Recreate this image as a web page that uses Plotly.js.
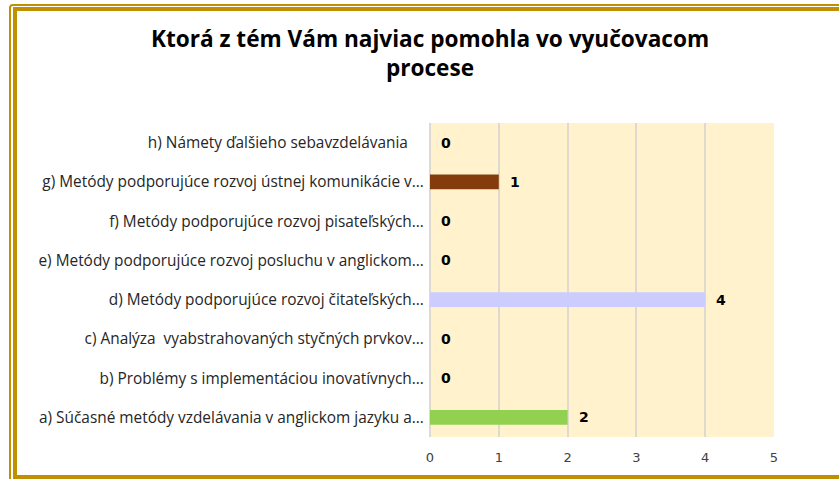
<!DOCTYPE html>
<html>
<head>
<meta charset="utf-8">
<script src="https://cdn.plot.ly/plotly-3.0.1.min.js"></script>
<style>
html,body{margin:0;padding:0;background:#fff;overflow:hidden;}
#wrap{position:relative;width:839px;height:479px;overflow:hidden;}
#chart{position:absolute;left:0;top:0;width:839px;height:479px;}
#frame1{position:absolute;left:9px;top:4px;width:900px;height:520px;border:2px solid #C09000;border-radius:4px;pointer-events:none;box-sizing:border-box;}
#frame2{position:absolute;left:13px;top:7px;width:900px;height:472px;border:4px solid #C09000;border-right:none;pointer-events:none;box-sizing:border-box;}
</style>
</head>
<body>
<div id="wrap">
<div id="chart"></div>
<div id="frame1"></div>
<div id="frame2"></div>
</div>
<script>
const categories = [
  "a) Súčasné metódy vzdelávania v anglickom jazyku a...",
  "b) Problémy s implementáciou inovatívnych...",
  "c) Analýza  vyabstrahovaných styčných prvkov...",
  "d) Metódy podporujúce rozvoj čitateľských...",
  "e) Metódy podporujúce rozvoj posluchu v anglickom...",
  "f) Metódy podporujúce rozvoj pisateľských...",
  "g) Metódy podporujúce rozvoj ústnej komunikácie v...",
  "h) Námety ďalšieho sebavzdelávania\u00a0\u00a0\u00a0\u00a0"
];
const values = [2, 0, 0, 4, 0, 0, 1, 0];
const barColors = ["#92D050", "#4F81BD", "#4F81BD", "#CCCCFF", "#4F81BD", "#4F81BD", "#843C0C", "#4F81BD"];
const xTicks = [0, 1, 2, 3, 4, 5];
const titleText = "Ktorá z tém Vám najviac pomohla vo vyučovacom<br>procese";

const trace = {
  type: "bar",
  orientation: "h",
  x: values,
  y: categories,
  marker: {color: barColors},
  hoverinfo: "none"
};

const annotations = values.map((v, i) => ({
  x: v, y: categories[i], xref: "x", yref: "y",
  text: String(v), showarrow: false, xanchor: "left", xshift: 9,
  font: {family: "DejaVu Sans", size: 14, color: "#000", weight: "bold"}
}));

const layout = {
  width: 839, height: 479,
  margin: {l: 430, r: 65, t: 123, b: 42, pad: 0},
  paper_bgcolor: "rgba(0,0,0,0)",
  plot_bgcolor: "#FFF2CC",
  showlegend: false,
  bargap: 0.62,
  title: {
    text: titleText,
    x: 0.5125, xanchor: "center", xref: "container",
    y: 0.902, yanchor: "top", yref: "container",
    font: {family: "Open Sans", size: 22.6, color: "#000", weight: "bold"}
  },
  xaxis: {
    range: [0, 5],
    tickvals: xTicks,
    showgrid: true, gridcolor: "#DEDAD0", gridwidth: 2,
    zeroline: true, zerolinecolor: "#DEDAD0", zerolinewidth: 2,
    ticks: "outside", ticklen: 8, tickcolor: "rgba(0,0,0,0)",
    tickfont: {family: "DejaVu Sans", size: 13, color: "#404040"},
    fixedrange: true
  },
  yaxis: {
    categoryorder: "array", categoryarray: categories,
    tickfont: {family: "Open Sans", size: 15.4, color: "#262626"},
    ticks: "outside", ticklen: 2, tickcolor: "rgba(0,0,0,0)",
    showgrid: false, zeroline: false,
    fixedrange: true
  },
  annotations: annotations
};

Plotly.newPlot("chart", [trace], layout, {displayModeBar: false, staticPlot: true});
</script>
</body>
</html>
